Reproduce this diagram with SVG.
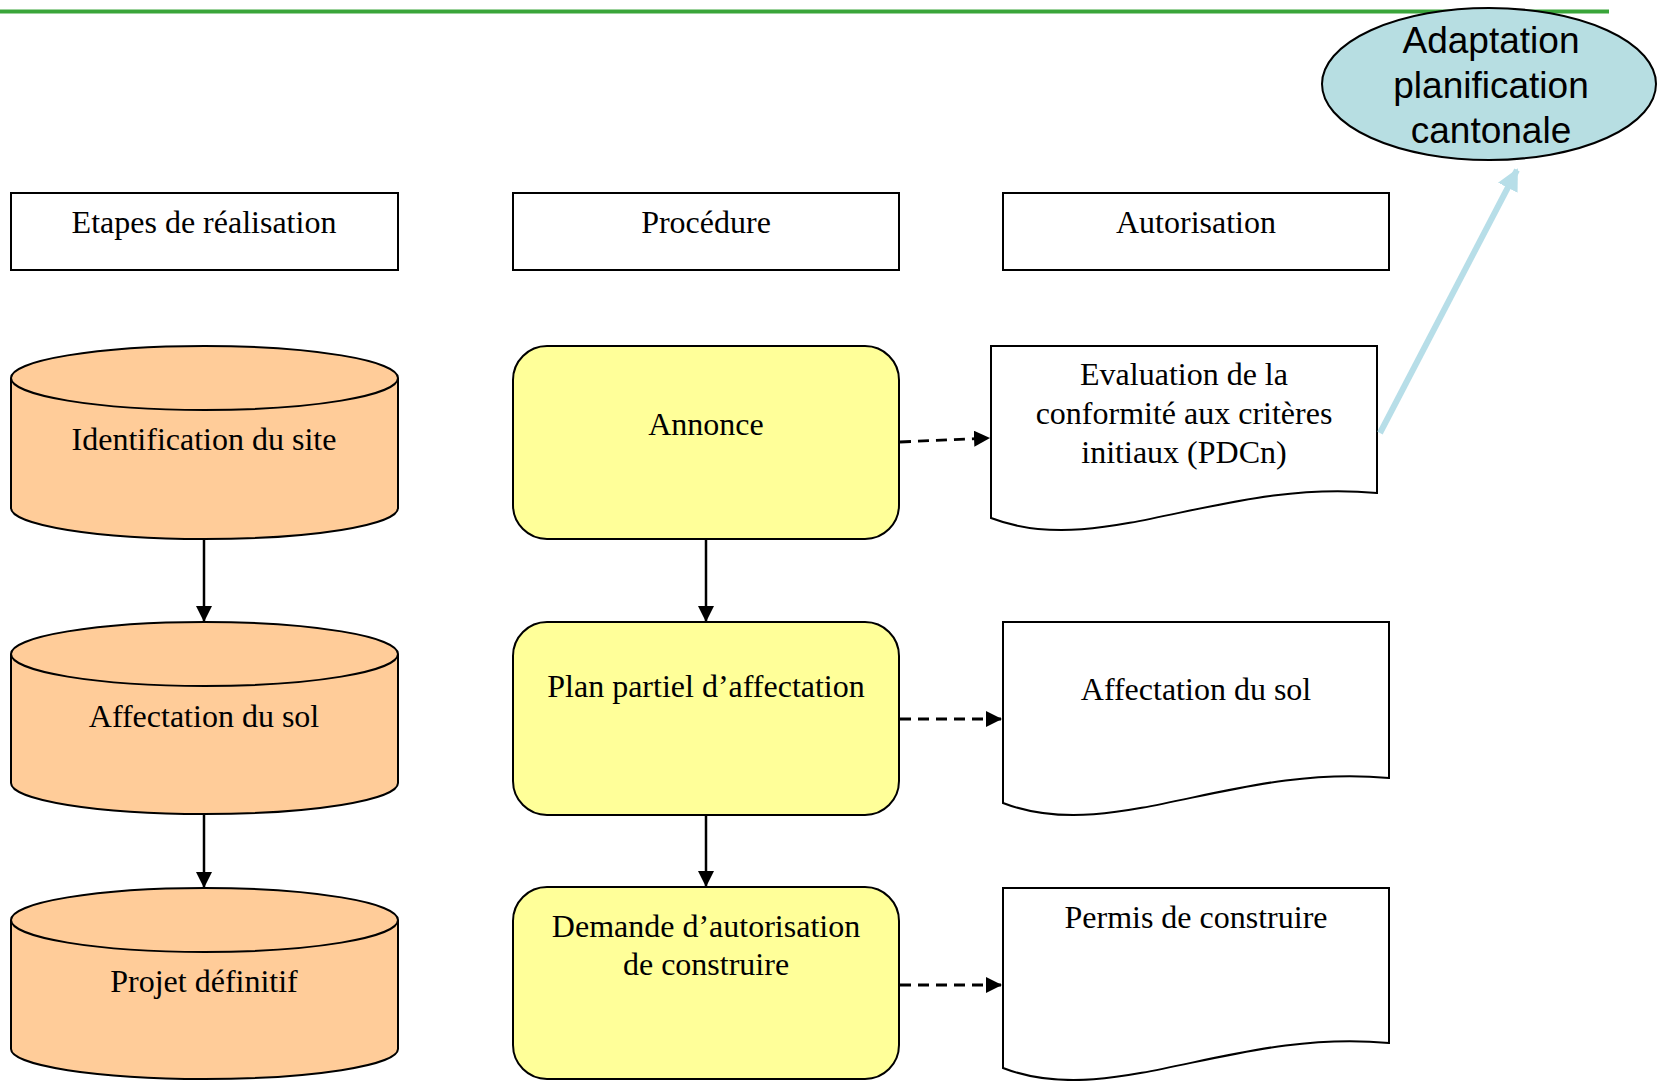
<svg xmlns="http://www.w3.org/2000/svg" width="1657" height="1081" viewBox="0 0 1657 1081">
<style>
.t{font-family:"Liberation Serif","Times New Roman",serif;font-size:32px;fill:#000;text-anchor:middle}
.e{font-family:"Liberation Sans",Arial,sans-serif;font-size:37px;fill:#000;text-anchor:middle}
.hdr{fill:#fff;stroke:#000;stroke-width:2}
.cyl{fill:#FFCC99;stroke:#000;stroke-width:2}
.proc{fill:#FFFF99;stroke:#000;stroke-width:2}
.doc{fill:#fff;stroke:#000;stroke-width:2}
.solid{fill:none;stroke:#000;stroke-width:2.5}
.dash{fill:none;stroke:#000;stroke-width:2.8;stroke-dasharray:11 7}
</style>
<defs>
<marker id="ah" markerWidth="16" markerHeight="16" refX="16" refY="8" orient="auto" markerUnits="userSpaceOnUse">
<path d="M0,0 L16,8 L0,16 Z" fill="#000"/>
</marker>
<marker id="ahb" markerWidth="24" markerHeight="22" refX="20" refY="11" orient="auto" markerUnits="userSpaceOnUse">
<path d="M0,0 L22,11 L0,22 Z" fill="#B7DEE8"/>
</marker>
</defs>
<line x1="0" y1="11.5" x2="1609" y2="11.5" stroke="#3AA53A" stroke-width="4"/>

<g id="n-adaptation">
<ellipse cx="1489" cy="84" rx="167" ry="76" fill="#B7DEE2" stroke="#000" stroke-width="2"/>
<text class="e" x="1491" y="53">Adaptation</text>
<text class="e" x="1491" y="98">planification</text>
<text class="e" x="1491" y="143">cantonale</text>
</g>

<g id="h-etapes"><rect class="hdr" x="11" y="193" width="387" height="77"/><text class="t" x="204" y="233">Etapes de réalisation</text></g>
<g id="h-procedure"><rect class="hdr" x="513" y="193" width="386" height="77"/><text class="t" x="706" y="233">Procédure</text></g>
<g id="h-autorisation"><rect class="hdr" x="1003" y="193" width="386" height="77"/><text class="t" x="1196" y="233">Autorisation</text></g>

<g id="n-identification">
<path class="cyl" d="M11,378 A193.5,32 0 0 1 398,378 L398,508 A193.5,31 0 0 1 11,508 Z"/>
<path class="cyl" d="M11,378 A193.5,32 0 0 0 398,378"/>
<text class="t" x="204" y="450">Identification du site</text>
</g>
<g id="n-affectation-cyl">
<path class="cyl" d="M11,654 A193.5,32 0 0 1 398,654 L398,783 A193.5,31 0 0 1 11,783 Z"/>
<path class="cyl" d="M11,654 A193.5,32 0 0 0 398,654"/>
<text class="t" x="204" y="727">Affectation du sol</text>
</g>
<g id="n-projet">
<path class="cyl" d="M11,920 A193.5,32 0 0 1 398,920 L398,1049 A193.5,30 0 0 1 11,1049 Z"/>
<path class="cyl" d="M11,920 A193.5,32 0 0 0 398,920"/>
<text class="t" x="204" y="992">Projet définitif</text>
</g>

<g id="n-annonce"><rect class="proc" x="513" y="346" width="386" height="193" rx="34"/><text class="t" x="706" y="435">Annonce</text></g>
<g id="n-plan"><rect class="proc" x="513" y="622" width="386" height="193" rx="34"/><text class="t" x="706" y="697">Plan partiel d’affectation</text></g>
<g id="n-demande"><rect class="proc" x="513" y="887" width="386" height="192" rx="34"/><text class="t" x="706" y="937">Demande d’autorisation</text><text class="t" x="706" y="975">de construire</text></g>

<g id="n-evaluation">
<path class="doc" d="M991,346 H1377 V493 C1220,478 1100,560 991,518 Z"/>
<text class="t" x="1184" y="385">Evaluation de la</text>
<text class="t" x="1184" y="424">conformité aux critères</text>
<text class="t" x="1184" y="463">initiaux (PDCn)</text>
</g>
<g id="n-affectation-doc">
<path class="doc" d="M1003,622 H1389 V778 C1232,763 1112,845 1003,803 Z"/>
<text class="t" x="1196" y="700">Affectation du sol</text>
</g>
<g id="n-permis">
<path class="doc" d="M1003,888 H1389 V1043 C1232,1028 1112,1110 1003,1068 Z"/>
<text class="t" x="1196" y="928">Permis de construire</text>
</g>

<g id="connectors">
<line class="solid" x1="204" y1="539" x2="204" y2="622" marker-end="url(#ah)"/>
<line class="solid" x1="204" y1="813" x2="204" y2="888" marker-end="url(#ah)"/>
<line class="solid" x1="706" y1="539" x2="706" y2="622" marker-end="url(#ah)"/>
<line class="solid" x1="706" y1="815" x2="706" y2="887" marker-end="url(#ah)"/>
<line class="dash" x1="900" y1="442" x2="990" y2="438" marker-end="url(#ah)"/>
<line class="dash" x1="900" y1="719" x2="1002" y2="719" marker-end="url(#ah)"/>
<line class="dash" x1="900" y1="985" x2="1002" y2="985" marker-end="url(#ah)"/>
<line x1="1380" y1="433" x2="1517" y2="170" stroke="#B7DEE8" stroke-width="6" marker-end="url(#ahb)"/>
</g>
</svg>
